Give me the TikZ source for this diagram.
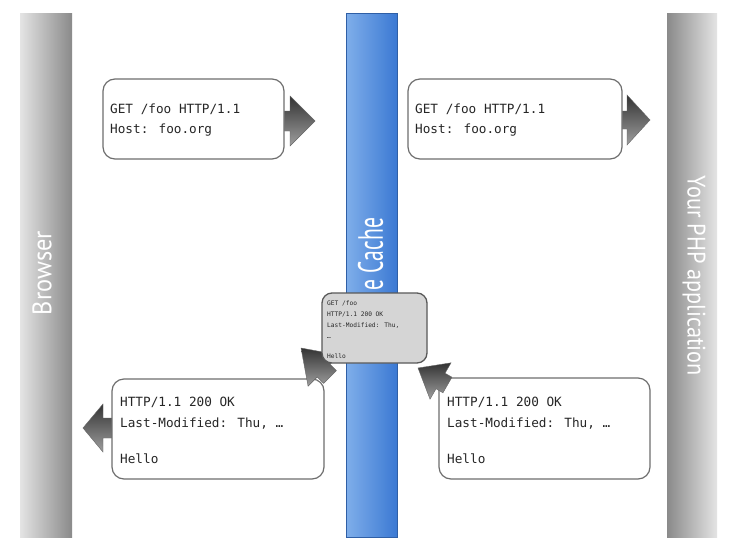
\documentclass[tikz,border=0pt]{standalone}
\usepackage{fontspec}
\usepackage{graphicx}
\newfontfamily\monof{DejaVu Sans Mono}
\newfontfamily\labelf{PT Sans}
\usetikzlibrary{calc}
\definecolor{barlight}{HTML}{E4E4E4}
\definecolor{bardark}{HTML}{8A8A8A}
\definecolor{cacheL}{HTML}{7FAEEA}
\definecolor{cacheM}{HTML}{A3C9F3}
\definecolor{cacheR}{HTML}{3B79D3}
\definecolor{cacheB}{HTML}{2F5FA6}
\definecolor{boxline}{HTML}{6E6E6E}
\definecolor{cachebox}{HTML}{D5D5D5}
\newcommand\blockarr[6]{%
  \begin{scope}[shift={(#1)},rotate=#2]
    \shade[arrowshade] (0,0) -- (-#4,#5) -- (-#4,#6) -- (-#3,#6) -- (-#3,-#6) -- (-#4,-#6) -- (-#4,-#5) -- cycle;
  \end{scope}}
\begin{document}
\begin{tikzpicture}[x=1pt,y=-1pt,
  bar/.style={minimum width=#1, minimum height=524pt, inner sep=0pt, outer sep=0pt},
  barlabel/.style={inner sep=0pt, text=white, font=\labelf},
  msgbox/.style={draw=boxline, line width=1.2pt, fill=white, rounded corners=12pt, inner sep=0pt, outer sep=0pt},
  cachemsg/.style={draw=black!65, line width=1.3pt, fill=cachebox, rounded corners=10pt, inner sep=0pt, outer sep=0pt, minimum width=105pt, minimum height=70pt},
  txt/.style={anchor=base west, inner sep=0pt, text=black!85, font=\monof\fontsize{12.7}{15}\selectfont},
  smalltxt/.style={anchor=base west, inner sep=0pt, text=black!85, font=\monof\fontsize{6.2}{7}\selectfont},
  arrowshade/.style={top color=black!80, bottom color=black!38, draw=black!60, line width=0.4pt}
]
\useasboundingbox (0,0) rectangle (735,546);
\fill[white] (0,0) rectangle (735,546);

% vertical bars
\node[bar=52pt, left color=barlight, right color=bardark] (browser) at (46,275) {};
\node[bar=51pt, left color=cacheL, middle color=cacheM, right color=cacheR, draw=cacheB, line width=0.6pt] (cache) at (371.5,275) {};
\node[bar=50pt, left color=bardark, right color=barlight] (app) at (692,275) {};

\node[barlabel, rotate=90] (browserlbl) at (42,273) {\resizebox{84pt}{19pt}{Browser}};
\node[barlabel, rotate=90] (cachelbl) at (370.5,254) {\resizebox{72pt}{25pt}{e Cache}};
\node[barlabel, rotate=-90] (applbl) at (694,276) {\resizebox*{200pt}{23pt}{Your PHP application}};

% boxes positions
\coordinate (b1) at (193.5,119);
\coordinate (b2) at (515,119);
\coordinate (b3) at (218,429);
\coordinate (b4) at (544.5,428.5);

% horizontal block arrows (under boxes)
\coordinate (tip1) at (315,121);
\coordinate (tip2) at (650,120);
\coordinate (tip3) at (83,428);
\blockarr{tip1}{0}{34}{25}{25}{10}
\blockarr{tip2}{0}{31}{23}{25}{9}
\blockarr{tip3}{180}{32}{20}{24}{10}

\node[msgbox, minimum width=181pt, minimum height=80pt] (box1) at (b1) {};
\node[msgbox, minimum width=214pt, minimum height=80pt] (box2) at (b2) {};
\node[msgbox, minimum width=212pt, minimum height=100pt] (box3) at (b3) {};
\node[msgbox, minimum width=211pt, minimum height=101pt] (box4) at (b4) {};

% diagonal block arrows
\coordinate (tip4) at (301,348);
\coordinate (tip5) at (418,368);
\blockarr{tip4}{135}{41}{32}{22}{9}
\blockarr{tip5}{150}{34}{26}{21}{9}

\node[cachemsg] (cbox) at (374.5,328) {};

% texts
\node[txt] (t1a) at (110,113) {GET /foo HTTP/1.1};
\node[txt] (t1b) at (110,133) {Host: foo.org};
\node[txt] (t2a) at (415,113) {GET /foo HTTP/1.1};
\node[txt] (t2b) at (415,133) {Host: foo.org};
\node[txt] (t3a) at (120,406) {HTTP/1.1 200 OK};
\node[txt] (t3b) at (120,427) {Last-Modified: Thu, …};
\node[txt] (t3c) at (120,463) {Hello};
\node[txt] (t4a) at (447,406) {HTTP/1.1 200 OK};
\node[txt] (t4b) at (447,427) {Last-Modified: Thu, …};
\node[txt] (t4c) at (447,463) {Hello};
\node[smalltxt] (c1) at (327,305) {GET /foo};
\node[smalltxt] (c2) at (327,316) {HTTP/1.1 200 OK};
\node[smalltxt] (c3) at (327,327) {Last-Modified: Thu,};
\node[smalltxt] (c4) at (327,338) {…};
\node[smalltxt] (c5) at (327,358) {Hello};
\end{tikzpicture}
\end{document}
